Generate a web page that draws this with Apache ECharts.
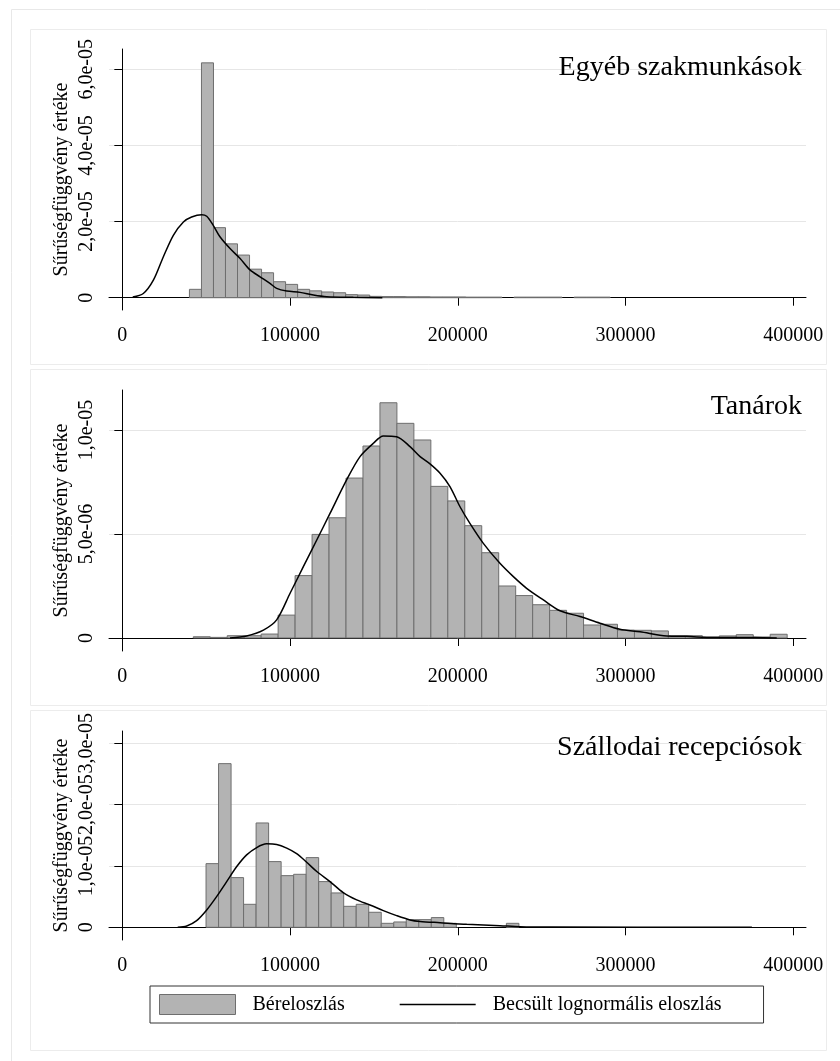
<!DOCTYPE html>
<html><head><meta charset="utf-8">
<script src="https://cdn.jsdelivr.net/npm/echarts@6/dist/echarts.min.js"></script>
<style>html,body{margin:0;padding:0;background:#fff}#c{width:840px;height:1061px}</style>
</head><body><div id="c"></div>
<script>
const panelTitles = ['Egyéb szakmunkások', 'Tanárok', 'Szállodai recepciósok'];
const yAxisTitle = 'Sűrűségfüggvény értéke';
const legendNames = ['Béreloszlás', 'Becsült lognormális eloszlás'];

const xTickValues = [0, 100000, 200000, 300000, 400000];
const xTickLabels = ['0', '100000', '200000', '300000', '400000'];

const yTickValues1 = [0, 2e-5, 4e-5, 6e-5];
const yTickLabels1 = ['0', '2,0e-05', '4,0e-05', '6,0e-05'];
const yTickValues2 = [0, 5e-6, 1e-5];
const yTickLabels2 = ['0', '5,0e-06', '1,0e-05'];
const yTickValues3 = [0, 1e-5, 2e-5, 3e-5];
const yTickLabels3 = ['0', '1,0e-05', '2,0e-05', '3,0e-05'];

// Panel 1: Egyéb szakmunkások
const binStart1 = 40000, binWidth1 = 7165;
const density1 = [2.2e-6, 6.17e-5, 1.84e-5, 1.415e-5, 1.12e-5, 7.5e-6, 6.55e-6, 4.2e-6, 3.5e-6, 2.2e-6,
  1.8e-6, 1.5e-6, 1.3e-6, 8e-7, 7e-7, 3.5e-7, 3e-7, 3e-7, 2.5e-7, 2.5e-7,
  2e-7, 2e-7, 2e-7, 1.5e-7, 1.5e-7, 1.5e-7, 0, 1.5e-7, 1.5e-7, 1.5e-7,
  1.5e-7, 0, 1.5e-7, 1.5e-7, 1.5e-7];
const curveX1 = [6200, 12500, 18500, 24400, 30400, 36400, 41300, 47300, 50300, 54200, 58200, 64200, 70200, 76100, 82100, 88000, 92000, 98000, 105900, 113900, 121800, 137700, 155000];
const curveY1 = [1.7e-7, 1.1e-6, 4.6e-6, 1.07e-5, 1.64e-5, 1.99e-5, 2.12e-5, 2.18e-5, 2.14e-5, 1.90e-5, 1.60e-5, 1.29e-5, 1.03e-5, 7.3e-6, 5.5e-6, 3.75e-6, 2.45e-6, 1.75e-6, 1.4e-6, 7e-7, 2.6e-7, 9e-8, 0];

// Panel 2: Tanárok
const binStart2 = 42300, binWidth2 = 10115;
const density2 = [6e-8, 3e-8, 1.1e-7, 1.1e-7, 1.9e-7, 1.1e-6, 3.0e-6, 4.98e-6, 5.78e-6, 7.69e-6,
  9.23e-6, 1.131e-5, 1.032e-5, 9.52e-6, 7.29e-6, 6.59e-6, 5.4e-6, 4.1e-6, 2.5e-6, 2.04e-6,
  1.6e-6, 1.33e-6, 1.19e-6, 6.25e-7, 6.6e-7, 3.8e-7, 3.7e-7, 3.4e-7, 1.1e-7, 1.1e-7,
  5e-8, 1e-7, 1.6e-7, 5e-8, 1.8e-7];
const curveX2 = [64200, 74100, 84100, 92000, 100000, 107900, 115900, 123800, 133700, 141700, 149600, 155600, 163500, 171500, 177500, 183400, 189400, 195300, 201300, 207200, 215200, 225100, 233100, 241000, 251000, 260900, 272800, 284700, 296600, 308600, 324500, 336400, 352300, 376200, 390100];
const curveY2 = [0, 1e-7, 3.8e-7, 8.7e-7, 2.15e-6, 3.43e-6, 4.71e-6, 5.99e-6, 7.6e-6, 8.72e-6, 9.36e-6, 9.71e-6, 9.68e-6, 9.2e-6, 8.72e-6, 8.37e-6, 7.92e-6, 7.28e-6, 6.31e-6, 5.51e-6, 4.55e-6, 3.59e-6, 2.95e-6, 2.39e-6, 1.83e-6, 1.31e-6, 1.03e-6, 7.1e-7, 4.2e-7, 3.0e-7, 1e-7, 8e-8, 2e-8, 3e-8, 0];

// Panel 3: Szállodai recepciósok
const binStart3 = 49900, binWidth3 = 7460;
const density3 = [1.038e-5, 2.668e-5, 8.1e-6, 3.75e-6, 1.701e-5, 1.071e-5, 8.42e-6, 8.64e-6, 1.136e-5, 7.45e-6,
  5.6e-6, 3.42e-6, 3.75e-6, 2.45e-6, 6.5e-7, 8.7e-7, 1.25e-6, 1.25e-6, 1.58e-6, 6.5e-7,
  0, 0, 0, 0, 6.5e-7];
const curveX3 = [33000, 38400, 44300, 50300, 56200, 62200, 68200, 74100, 80100, 86000, 92000, 98000, 103900, 109900, 115900, 123800, 131700, 139700, 147600, 155600, 163500, 171500, 177500, 189400, 205300, 225100, 237100, 254900, 375300];
const curveY3 = [0, 2.2e-7, 1.09e-6, 2.83e-6, 5.0e-6, 7.45e-6, 9.9e-6, 1.18e-5, 1.30e-5, 1.36e-5, 1.35e-5, 1.29e-5, 1.20e-5, 1.06e-5, 9.1e-6, 7.45e-6, 5.65e-6, 4.46e-6, 3.64e-6, 2.72e-6, 1.9e-6, 1.2e-6, 9.5e-7, 7.5e-7, 4.9e-7, 2.7e-7, 1.1e-7, 5e-8, 0];

const FONT = 'Liberation Serif';
const BAR_FILL = '#b3b3b3', BAR_STROKE = '#6e6e6e';

const panels = [
  {top: 49, height: 261, ymin: -3.23e-6, ymax: 6.534e-5, yt: yTickValues1, yl: yTickLabels1, start: binStart1, width: binWidth1, dens: density1, cx: curveX1, cy: curveY1, titleTop: 54},
  {top: 390, height: 261, ymin: -6.25e-7, ymax: 1.1923e-5, yt: yTickValues2, yl: yTickLabels2, start: binStart2, width: binWidth2, dens: density2, cx: curveX2, cy: curveY2, titleTop: 393},
  {top: 731, height: 209, ymin: -2.07e-6, ymax: 3.2e-5, yt: yTickValues3, yl: yTickLabels3, start: binStart3, width: binWidth3, dens: density3, cx: curveX3, cy: curveY3, titleTop: 734}
];

const grid = [], xAxis = [], yAxis = [], series = [], title = [];
panels.forEach((p, gi) => {
  grid.push({left: 109, width: 697, top: p.top, height: p.height});
  xAxis.push({
    type: 'value', gridIndex: gi, min: -7950, max: 407550,
    axisLine: {show: true, lineStyle: {color: '#000', width: 1}},
    axisTick: {show: true, length: 8, lineStyle: {color: '#000'}, customValues: xTickValues},
    axisLabel: {show: true, margin: 16, fontFamily: FONT, fontSize: 20, color: '#000', customValues: xTickValues,
      formatter: v => { const i = xTickValues.indexOf(v); return i >= 0 ? xTickLabels[i] : ''; }},
    splitLine: {show: false}
  });
  yAxis.push({
    type: 'value', gridIndex: gi, min: p.ymin, max: p.ymax,
    name: yAxisTitle, nameLocation: 'middle', nameGap: 37, nameRotate: 90, nameMoveOverlap: false,
    nameTextStyle: {fontFamily: FONT, fontSize: 20, color: '#000'},
    axisLine: {show: true, lineStyle: {color: '#000', width: 1}},
    axisTick: {show: true, length: 8, lineStyle: {color: '#000'}, customValues: p.yt},
    axisLabel: {show: true, rotate: 90, margin: 12, fontFamily: FONT, fontSize: 20, color: '#000', customValues: p.yt,
      formatter: v => { const i = p.yt.findIndex(t => Math.abs(t - v) < 1e-12); return i >= 0 ? p.yl[i] : ''; }},
    splitLine: {show: true, lineStyle: {color: '#e6e6e6', width: 1}}
  });
  series.push({
    type: 'custom', name: legendNames[0], xAxisIndex: gi, yAxisIndex: gi,
    data: p.dens.map((d, i) => [p.start + i * p.width, p.start + (i + 1) * p.width, d]),
    encode: {x: [0, 1], y: 2},
    itemStyle: {color: BAR_FILL, borderColor: BAR_STROKE},
    renderItem: (params, api) => {
      const d = api.value(2);
      if (!(d > 0)) return null;
      const p0 = api.coord([api.value(0), d]);
      const p1 = api.coord([api.value(1), 0]);
      return {type: 'rect', shape: {x: p0[0], y: p0[1], width: p1[0] - p0[0], height: p1[1] - p0[1]},
        style: {fill: BAR_FILL, stroke: BAR_STROKE, lineWidth: 1}};
    },
    z: 2, silent: true
  });
  series.push({
    type: 'line', name: legendNames[1], xAxisIndex: gi, yAxisIndex: gi,
    data: p.cx.map((x, i) => [x, p.cy[i]]),
    symbol: 'none', showSymbol: false, smooth: 0.3,
    lineStyle: {color: '#000', width: 1.5}, itemStyle: {color: '#000'},
    z: 3, silent: true
  });
  title.push({text: panelTitles[gi], right: 38, top: p.titleTop, padding: 0,
    textStyle: {fontFamily: FONT, fontSize: 28, fontWeight: 'normal', color: '#000'}});
});

const LINE_ICON = 'path://M0,0L0.01,0L0.01,0.01ZM76,20L75.99,20L75.99,19.99ZM0,9.3L76,9.3L76,10.7L0,10.7Z';

const chart = echarts.init(document.getElementById('c'), null, {renderer: 'canvas'});
chart.setOption({
  animation: false,
  backgroundColor: '#fff',
  title: title,
  grid: grid, xAxis: xAxis, yAxis: yAxis, series: series,
  legend: {
    left: 150, top: 986, orient: 'horizontal',
    padding: [8, 42, 8, 9], borderColor: '#333', borderWidth: 1,
    itemWidth: 76, itemHeight: 20, itemGap: 55, symbolKeepAspect: false,
    textStyle: {fontFamily: FONT, fontSize: 20, color: '#000', padding: [0, 0, 0, 12]},
    selectedMode: false,
    data: [
      {name: legendNames[0], icon: 'rect', itemStyle: {color: BAR_FILL, borderColor: BAR_STROKE, borderWidth: 1}},
      {name: legendNames[1], icon: LINE_ICON, itemStyle: {color: '#000', borderWidth: 0}}
    ]
  },
  graphic: [
    {type: 'rect', silent: true, z: -10, shape: {x: 11.5, y: 9.5, width: 900, height: 1100}, style: {fill: 'none', stroke: '#e8e8e8', lineWidth: 1}},
    {type: 'rect', silent: true, z: -10, shape: {x: 30.5, y: 29.5, width: 796, height: 335}, style: {fill: 'none', stroke: '#ececec', lineWidth: 1}},
    {type: 'rect', silent: true, z: -10, shape: {x: 30.5, y: 369.5, width: 796, height: 336}, style: {fill: 'none', stroke: '#ececec', lineWidth: 1}},
    {type: 'rect', silent: true, z: -10, shape: {x: 30.5, y: 710.5, width: 796, height: 340}, style: {fill: 'none', stroke: '#ececec', lineWidth: 1}}
  ]
});
</script>
</body></html>
